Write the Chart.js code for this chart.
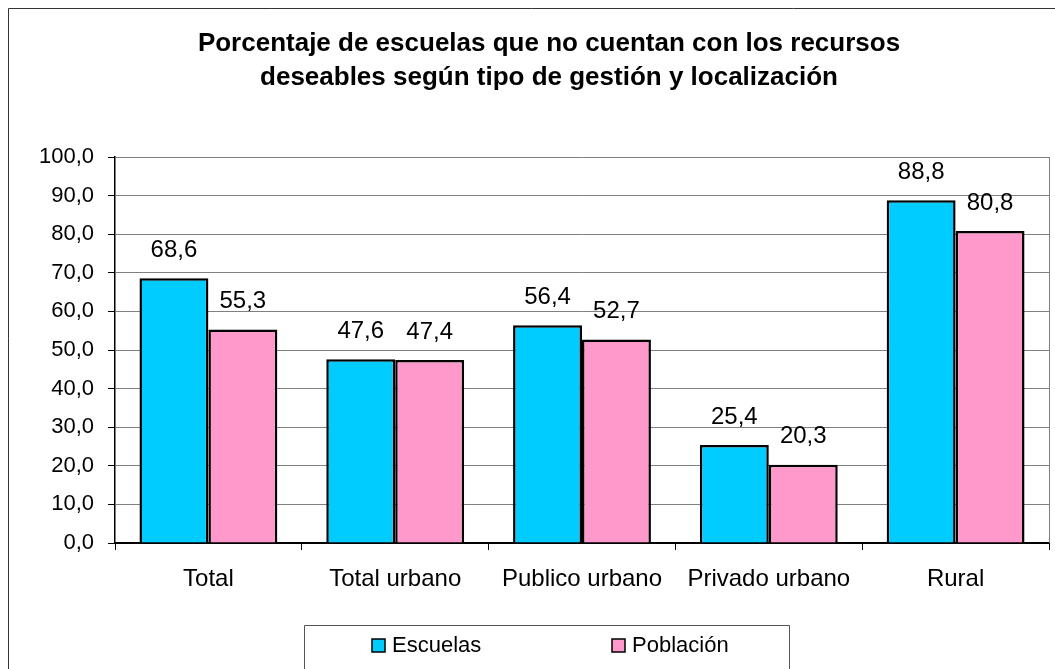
<!DOCTYPE html>
<html>
<head>
<meta charset="utf-8">
<script src="https://cdn.jsdelivr.net/npm/chart.js@4/dist/chart.umd.min.js"></script>
<style>
  html, body { margin:0; padding:0; background:#fff; }
  #wrap { width:1055px; height:669px; position:relative; }
</style>
</head>
<body>
<div id="wrap"><canvas id="chart" width="1055" height="669"></canvas></div>
<script>
const FONT = '"Liberation Sans", Arial, sans-serif';

// ===== Data =====
const titleLines = [
  "Porcentaje de escuelas que no cuentan con los recursos",
  "deseables según tipo de gestión y localización"
];
const categories = ["Total", "Total urbano", "Publico urbano", "Privado urbano", "Rural"];
const escuelas = [68.6, 47.6, 56.4, 25.4, 88.8];
const poblacion = [55.3, 47.4, 52.7, 20.3, 80.8];
const seriesNames = ["Escuelas", "Población"];
const seriesColors = ["#00CCFF", "#FF99CC"];

const fmt = v => v.toFixed(1).replace('.', ',');

// ===== Frame, title, legend, value labels =====
const decorPlugin = {
  id: 'decor',
  afterDatasetsDraw(chart) {
    const ctx = chart.ctx;
    const area = chart.chartArea;

    // right border of plot area
    ctx.save();
    ctx.strokeStyle = '#808080';
    ctx.lineWidth = 1;
    ctx.beginPath();
    ctx.moveTo(area.right + 0.5, area.top);
    ctx.lineTo(area.right + 0.5, area.bottom);
    ctx.stroke();

    // value labels above bars
    ctx.fillStyle = '#000';
    ctx.font = '24px ' + FONT;
    ctx.textAlign = 'center';
    ctx.textBaseline = 'middle';
    chart.data.datasets.forEach((ds, i) => {
      chart.getDatasetMeta(i).data.forEach((bar, j) => {
        ctx.fillText(fmt(ds.data[j]), bar.x, bar.y - 28);
      });
    });
    ctx.restore();
  },
  afterDraw(chart) {
    const ctx = chart.ctx;
    ctx.save();

    // outer frame (right/bottom edges are off-canvas)
    ctx.strokeStyle = '#333';
    ctx.lineWidth = 1;
    ctx.beginPath();
    ctx.moveTo(8.5, 669);
    ctx.lineTo(8.5, 8.5);
    ctx.lineTo(1055, 8.5);
    ctx.stroke();

    // title
    ctx.fillStyle = '#000';
    ctx.font = 'bold 26px ' + FONT;
    ctx.textAlign = 'center';
    ctx.textBaseline = 'middle';
    ctx.fillText(titleLines[0], 549, 44);
    ctx.fillText(titleLines[1], 549, 78);

    // legend box
    ctx.strokeStyle = '#555';
    ctx.beginPath();
    ctx.moveTo(304.5, 669);
    ctx.lineTo(304.5, 625.5);
    ctx.lineTo(789.5, 625.5);
    ctx.lineTo(789.5, 669);
    ctx.stroke();

    const swatchX = [372, 612];
    ctx.font = '22px ' + FONT;
    ctx.textAlign = 'left';
    seriesNames.forEach((name, i) => {
      ctx.fillStyle = seriesColors[i];
      ctx.fillRect(swatchX[i], 639, 13, 13);
      ctx.strokeStyle = '#000';
      ctx.lineWidth = 1.5;
      ctx.strokeRect(swatchX[i], 639, 13, 13);
      ctx.fillStyle = '#000';
      ctx.fillText(name, swatchX[i] + 20, 646);
    });
    ctx.restore();
  }
};

// ===== Chart =====
new Chart(document.getElementById('chart').getContext('2d'), {
  type: 'bar',
  data: {
    labels: categories,
    datasets: [
      { label: seriesNames[0], data: escuelas, backgroundColor: seriesColors[0], borderColor: '#000', borderWidth: 2.5 },
      { label: seriesNames[1], data: poblacion, backgroundColor: seriesColors[1], borderColor: '#000', borderWidth: 2.5 }
    ]
  },
  options: {
    responsive: false,
    animation: false,
    events: [],
    categoryPercentage: 0.738,
    barPercentage: 1.0,
    layout: { padding: { left: 8, right: 6, top: 157, bottom: 0 } },
    plugins: { legend: { display: false }, title: { display: false }, tooltip: { enabled: false } },
    scales: {
      x: {
        afterFit: s => { s.height = 126; },
        grid: { offset: true, drawOnChartArea: false, tickLength: 7, color: '#000', tickColor: '#000' },
        border: { color: '#000', width: 2 },
        ticks: { color: '#000', font: { family: FONT, size: 24 }, padding: 15, maxRotation: 0 }
      },
      y: {
        min: 0,
        max: 100,
        afterFit: s => { s.width = 107; },
        grid: { color: '#808080', tickLength: 7, tickColor: '#000' },
        border: { color: '#000', width: 1.5 },
        ticks: { stepSize: 10, color: '#000', font: { family: FONT, size: 22 }, padding: 14, callback: v => fmt(v) }
      }
    }
  },
  plugins: [decorPlugin]
});
</script>
</body>
</html>
